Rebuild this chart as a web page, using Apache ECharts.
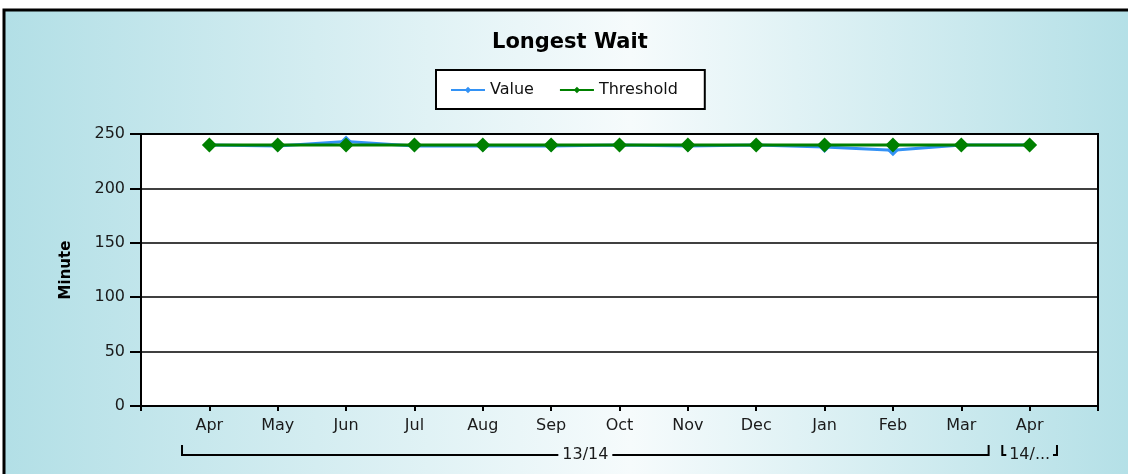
<!DOCTYPE html>
<html>
<head>
<meta charset="utf-8">
<script src="https://cdn.jsdelivr.net/npm/echarts@6/dist/echarts.min.js"></script>
<style>
  html, body { margin: 0; padding: 0; background: #fff; }
  #chart { width: 1128px; height: 474px; }
</style>
</head>
<body>
<div id="chart"></div>
<script>
// 数据
var months = ['', 'Apr', 'May', 'Jun', 'Jul', 'Aug', 'Sep', 'Oct', 'Nov', 'Dec', 'Jan', 'Feb', 'Mar', 'Apr', ''];
var valueData = [null, 240, 239, 243, 239, 239, 239, 240, 239, 240, 238, 235, 240, 240, null];
var thresholdData = [null, 240, 240, 240, 240, 240, 240, 240, 240, 240, 240, 240, 240, 240, null];
var yTicks = [0, 50, 100, 150, 200, 250];

// 年度分组
var groupLabels = ['13/14', '14/...'];
var groupStarts = [1, 13];
var groupEnds = [12, 13];

var FONT = '"DejaVu Sans", Verdana, sans-serif';

var chart = echarts.init(document.getElementById('chart'));

var option = {
	animation: false,
	textStyle: { fontFamily: FONT },
	title: {
		text: 'Longest Wait',
		left: 487,
		top: 27,
		textStyle: { fontFamily: FONT, fontSize: 21, fontWeight: 'bold', color: '#000' }
	},
	legend: {
		left: 436,
		top: 70,
		padding: [12, 27, 11, 14],
		itemGap: 25,
		itemWidth: 34,
		itemHeight: 8,
		backgroundColor: '#fff',
		borderColor: '#000',
		borderWidth: 2,
		borderRadius: 0,
		textStyle: { fontFamily: FONT, fontSize: 16, color: '#111' },
		data: ['Value', 'Threshold']
	},
	grid: {
		left: 141,
		right: 30,
		top: 134,
		bottom: 68,
		show: true,
		backgroundColor: '#fff',
		borderColor: '#000',
		borderWidth: 2
	},
	xAxis: {
		type: 'category',
		data: months,
		boundaryGap: false,
		axisLine: { lineStyle: { color: '#000', width: 2 } },
		axisTick: { show: true, interval: 0, length: 5, lineStyle: { color: '#000', width: 2 } },
		axisLabel: { interval: 0, margin: 12, fontFamily: FONT, fontSize: 16, color: '#1a1a1a' },
		splitLine: { show: false }
	},
	yAxis: {
		type: 'value',
		min: yTicks[0],
		max: yTicks[yTicks.length - 1],
		interval: 50,
		name: 'Minute',
		nameLocation: 'middle',
		nameGap: 67,
		nameTextStyle: { fontFamily: FONT, fontSize: 15, fontWeight: 'bold', color: '#000' },
		axisLine: { show: true, lineStyle: { color: '#000', width: 2 } },
		axisTick: { show: true, length: 11, lineStyle: { color: '#000', width: 2 } },
		axisLabel: { margin: 16, fontFamily: FONT, fontSize: 16, color: '#1a1a1a' },
		splitLine: { show: true, lineStyle: { color: '#000', width: 1.5 } }
	},
	series: [{
		name: 'Value',
		type: 'line',
		data: valueData,
		color: '#3392f5',
		symbol: 'diamond',
		symbolSize: 12,
		lineStyle: { width: 3, color: '#3392f5' },
		itemStyle: { color: '#3392f5' },
		z: 2
	}, {
		name: 'Threshold',
		type: 'line',
		data: thresholdData,
		color: '#008000',
		symbol: 'diamond',
		symbolSize: 15,
		lineStyle: { width: 3, color: '#008000' },
		itemStyle: { color: '#008000' },
		z: 3
	}]
};

chart.setOption(option);

// 背景 + 分组括号
function drawExtras() {
	var els = [{
		type: 'rect',
		z: -10,
		silent: true,
		shape: { x: 4, y: 10, width: 1140, height: 480 },
		style: {
			fill: new echarts.graphic.LinearGradient(0, 0, 1, 0, [
				{ offset: 0, color: '#b2dfe6' },
				{ offset: 0.55, color: '#f6fbfc' },
				{ offset: 1, color: '#b2dfe6' }
			]),
			stroke: '#000',
			lineWidth: 3
		}
	}];

	var step = chart.convertToPixel({ xAxisIndex: 0 }, 2) - chart.convertToPixel({ xAxisIndex: 0 }, 1);
	var yLine = 455, yTop = 445;
	for (var i = 0; i < groupLabels.length; i++) {
		var x0 = chart.convertToPixel({ xAxisIndex: 0 }, groupStarts[i]) - step * 0.4;
		var x1 = chart.convertToPixel({ xAxisIndex: 0 }, groupEnds[i]) + step * 0.4;
		var mid = (x0 + x1) / 2;
		var tw = groupLabels[i].length * 9.2;
		var a = mid - tw / 2 - 4, b = mid + tw / 2 + 4;
		if (a < x0 + 4) { a = x0 + 4; }
		if (b > x1 - 4) { b = x1 - 4; }
		els.push({
			type: 'polyline', silent: true,
			shape: { points: [[x0, yTop], [x0, yLine], [a, yLine]] },
			style: { stroke: '#000', lineWidth: 2, fill: null }
		});
		els.push({
			type: 'polyline', silent: true,
			shape: { points: [[b, yLine], [x1, yLine], [x1, yTop]] },
			style: { stroke: '#000', lineWidth: 2, fill: null }
		});
		els.push({
			type: 'text', silent: true,
			x: mid, y: yLine,
			style: {
				text: groupLabels[i],
				font: '16px ' + FONT,
				fill: '#1a1a1a',
				align: 'center',
				verticalAlign: 'middle'
			}
		});
	}
	chart.setOption({ graphic: els });
}
drawExtras();
</script>
</body>
</html>
